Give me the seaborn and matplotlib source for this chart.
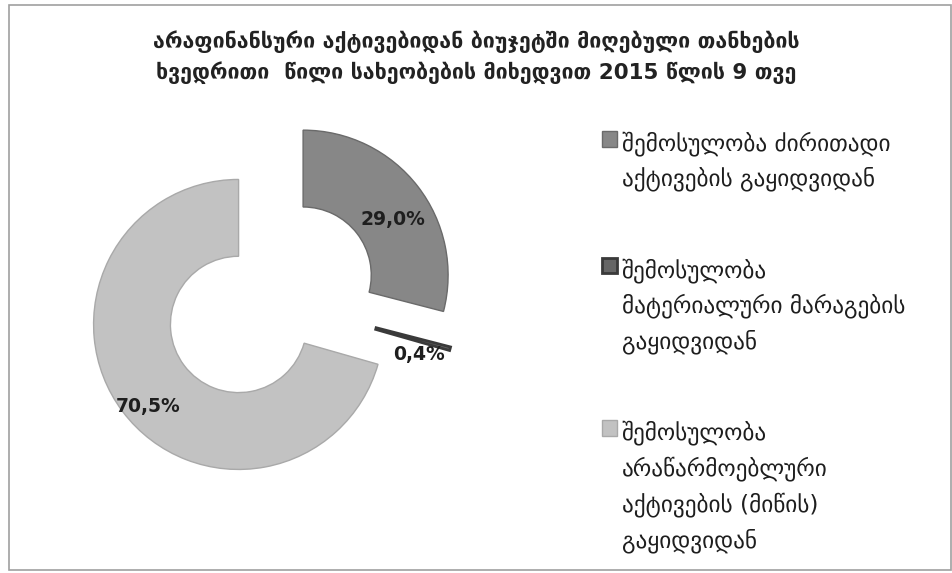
import matplotlib
matplotlib.use("Agg")
import matplotlib.pyplot as plt
import seaborn as sns
from matplotlib.patches import Rectangle
from matplotlib.transforms import ScaledTranslation

# data
categories = [
    "შემოსულობა ძირითადი\nაქტივების გაყიდვიდან",
    "შემოსულობა\nმატერიალური მარაგების\nგაყიდვიდან",
    "შემოსულობა\nარაწარმოებლური\nაქტივების (მიწის)\nგაყიდვიდან",
]
shares = [29.0, 0.4, 70.5]
colors = ["#878787", "#666666", "#c2c2c2"]
edges = ["#6a6a6a", "#3a3a3a", "#a9a9a9"]

title = ("არაფინანსური აქტივებიდან ბიუჯეტში მიღებული თანხების\n"
         "ხვედრითი  წილი სახეობების მიხედვით 2015 წლის 9 თვე")

sns.set_theme(style="white")
plt.rcParams['font.family'] = ['DejaVu Sans']

W, H = 953, 573
fig = plt.figure(figsize=(W / 100, H / 100), dpi=100)
fig.patch.set_facecolor("white")

# frame around the chart area
fig.add_artist(Rectangle((9 / W, 3 / H), 942 / W, 565 / H, transform=fig.transFigure,
                         fill=False, edgecolor="#a0a0a0", linewidth=1.2))

# donut axes: centre at (271, 300) px, radius 145 px
cx, cy, R, half = 271, 300, 145, 210
ax = fig.add_axes([(cx - half) / W, (H - cy - half) / H, 2 * half / W, 2 * half / H])
lim = half / R

labels = [f"{v:.1f}%".replace(".", ",") for v in shares]
wedges, texts = ax.pie(
    shares, labels=labels, colors=colors, startangle=90, counterclock=False,
    explode=[0.28, 0.28, 0.28], radius=1.0, labeldistance=0.78,
    wedgeprops=dict(width=0.53, linewidth=1.0),
    textprops=dict(fontsize=13.5, fontweight="bold", color="#1e1e1e"),
)
ax.set_xlim(-lim, lim)
ax.set_ylim(-lim, lim)
ax.axis("off")
for w, ec in zip(wedges, edges):
    w.set_edgecolor(ec)
wedges[1].set_linewidth(2.0)
shift = ScaledTranslation(0, -10 / 72, fig.dpi_scale_trans)
for t in texts:
    t.set_ha("center")
    t.set_va("center")
    t.set_transform(t.get_transform() + shift)

fig.text(0.5, 1 - 57 / H, title, ha="center", va="center", fontsize=15.4,
         fontweight="bold", color="#222222", linespacing=1.45)

leg = fig.legend(wedges, categories, loc="upper left",
                 bbox_to_anchor=(602 / W, 1 - 131 / H), frameon=False,
                 fontsize=16.75, handlelength=0.65, handleheight=0.65,
                 handletextpad=0.2, labelspacing=2.85,
                 borderpad=0, borderaxespad=0)
for t in leg.get_texts():
    t.set_linespacing(1.58)
    t.set_color("#1e1e1e")
# marker next to the first line of each entry
for col in leg._legend_handle_box.get_children():
    for item in col.get_children():
        item.align = "top"

fig.savefig("out.png", dpi=100, facecolor="white")
